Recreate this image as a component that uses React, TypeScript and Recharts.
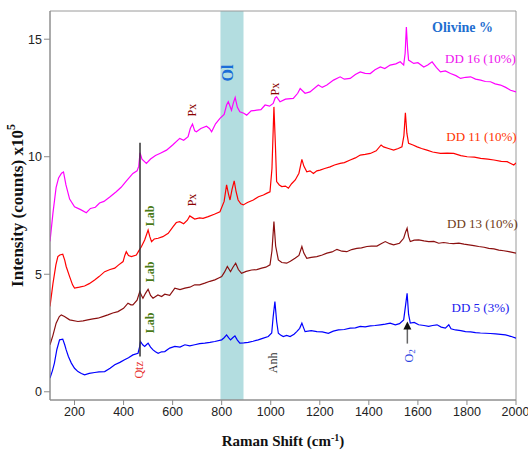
import React from 'react';
import {
  LineChart,
  Line,
  XAxis,
  YAxis,
  ReferenceArea,
  ReferenceLine,
  ReferenceDot,
  Label,
} from 'recharts';

type Pt = [number, number];

// Raman spectra, [shift cm-1, intensity x1e5]
const dd16: Pt[] = [
  [100, 6.4], [112, 7.6], [125, 8.7], [135, 9.1], [147, 9.3], [155, 9.35], [165, 8.8], [180, 8.2],
  [200, 7.87], [225, 7.75], [248, 7.62], [265, 7.8], [285, 7.85], [302, 8.03], [320, 8.1], [345, 8.3],
  [370, 8.51], [390, 8.7], [410, 8.95], [438, 9.29], [455, 9.4], [462, 9.6], [467, 10.17], [475, 9.9],
  [493, 9.72], [510, 9.9], [530, 10.05], [550, 10.15], [575, 10.28], [600, 10.5], [629, 10.78], [645, 10.7],
  [663, 10.85], [672, 11.2], [681, 11.39], [690, 11.1], [697, 11.06], [715, 11.2], [738, 11.3], [750, 11.2],
  [759, 11.06], [775, 11.4], [793, 11.63], [810, 11.8], [820, 12.2], [827, 12.34], [840, 11.98], [848, 12.3],
  [855, 12.52], [864, 12.1], [874, 11.91], [890, 11.85], [902, 11.77], [920, 11.95], [943, 11.98], [960, 12.0],
  [977, 12.2], [995, 12.15], [1010, 12.27], [1018, 12.5], [1024, 12.55], [1038, 12.34], [1060, 12.45], [1092, 12.48],
  [1110, 12.7], [1120, 12.9], [1140, 12.7], [1160, 12.76], [1194, 13.05], [1210, 12.95], [1229, 13.05], [1256, 13.26],
  [1283, 13.4], [1300, 13.3], [1324, 13.33], [1345, 13.5], [1365, 13.61], [1385, 13.55], [1406, 13.54], [1425, 13.7],
  [1447, 13.82], [1465, 13.75], [1487, 13.9], [1510, 13.95], [1528, 14.04], [1542, 13.9], [1548, 14.4], [1553, 15.52],
  [1558, 14.6], [1562, 14.11], [1583, 13.97], [1600, 14.0], [1624, 13.82], [1640, 13.9], [1658, 14.04], [1675, 13.8],
  [1692, 13.61], [1712, 13.65], [1733, 13.54], [1755, 13.45], [1774, 13.33], [1795, 13.38], [1815, 13.4], [1835, 13.3],
  [1856, 13.26], [1875, 13.2], [1896, 13.19], [1915, 13.1], [1937, 13.05], [1958, 12.95], [1978, 12.83], [2000, 12.76],
];

const dd11: Pt[] = [
  [100, 3.63], [112, 4.6], [124, 5.4], [132, 5.75], [140, 5.82], [152, 5.85], [160, 5.6], [166, 5.33],
  [180, 4.9], [192, 4.55], [200, 4.41], [220, 4.45], [241, 4.5], [260, 4.6], [282, 4.76], [300, 4.9],
  [323, 5.11], [345, 5.2], [364, 5.26], [380, 5.4], [398, 5.54], [405, 5.8], [411, 5.96], [420, 5.8],
  [432, 5.75], [452, 5.82], [465, 6.05], [473, 6.18], [486, 6.46], [500, 6.88], [507, 6.6], [514, 6.39],
  [525, 6.5], [541, 6.53], [560, 6.6], [582, 6.74], [602, 7.03], [615, 7.2], [629, 7.24], [645, 7.15],
  [660, 7.3], [670, 7.48], [690, 7.35], [710, 7.4], [724, 7.38], [745, 7.45], [770, 7.55], [793, 7.66],
  [810, 8.1], [820, 8.8], [828, 8.4], [834, 8.16], [842, 8.6], [851, 8.97], [859, 8.5], [867, 8.16],
  [878, 8.0], [888, 7.95], [905, 8.05], [929, 8.16], [950, 8.3], [970, 8.37], [985, 8.45], [997, 8.51],
  [1005, 9.5], [1013, 12.12], [1019, 10.5], [1024, 8.94], [1035, 8.8], [1045, 8.73], [1060, 8.75], [1072, 8.66],
  [1085, 8.85], [1100, 9.01], [1115, 9.3], [1127, 9.89], [1135, 9.6], [1147, 9.36], [1160, 9.4], [1174, 9.29],
  [1188, 9.4], [1201, 9.43], [1220, 9.5], [1242, 9.57], [1260, 9.65], [1283, 9.72], [1300, 9.75], [1324, 9.86],
  [1345, 9.95], [1365, 10.07], [1385, 10.1], [1406, 10.14], [1430, 10.25], [1450, 10.5], [1460, 10.42], [1480, 10.35],
  [1501, 10.28], [1520, 10.35], [1535, 10.42], [1543, 10.9], [1549, 11.87], [1555, 11.0], [1562, 10.57], [1580, 10.5],
  [1597, 10.42], [1615, 10.35], [1637, 10.28], [1660, 10.2], [1692, 10.14], [1720, 10.15], [1746, 10.14], [1775, 10.05],
  [1801, 10.0], [1830, 9.98], [1856, 9.93], [1885, 9.9], [1910, 9.86], [1940, 9.8], [1964, 9.79], [1991, 9.65],
  [2000, 9.74],
];

const dd13: Pt[] = [
  [100, 2.0], [112, 2.4], [125, 2.92], [138, 3.2], [146, 3.27], [159, 3.2], [180, 3.06], [214, 2.99],
  [235, 3.02], [254, 3.06], [275, 3.1], [295, 3.13], [315, 3.2], [336, 3.27], [356, 3.35], [377, 3.41],
  [400, 3.55], [418, 3.77], [430, 3.7], [438, 3.7], [455, 3.9], [466, 4.26], [473, 4.1], [479, 3.98],
  [490, 4.2], [500, 4.36], [510, 4.1], [520, 3.98], [540, 4.12], [555, 4.05], [568, 4.15], [588, 4.1],
  [609, 4.41], [630, 4.35], [650, 4.41], [670, 4.45], [690, 4.55], [710, 4.55], [731, 4.62], [752, 4.7],
  [772, 4.76], [790, 4.85], [800, 4.9], [812, 5.1], [823, 5.33], [836, 5.11], [846, 5.3], [857, 5.47],
  [868, 5.2], [881, 5.04], [900, 5.12], [922, 5.18], [943, 5.2], [963, 5.26], [980, 5.3], [997, 5.4],
  [1005, 6.0], [1013, 7.24], [1020, 6.2], [1031, 5.61], [1045, 5.5], [1065, 5.47], [1080, 5.55], [1099, 5.68],
  [1115, 5.8], [1127, 6.18], [1135, 5.9], [1147, 5.68], [1165, 5.72], [1188, 5.75], [1210, 5.82], [1229, 5.9],
  [1250, 5.95], [1270, 6.06], [1290, 5.98], [1310, 5.96], [1330, 6.05], [1351, 6.1], [1370, 6.12], [1392, 6.18],
  [1410, 6.2], [1433, 6.2], [1450, 6.3], [1467, 6.39], [1485, 6.3], [1501, 6.25], [1525, 6.32], [1542, 6.53],
  [1550, 6.8], [1556, 6.96], [1562, 6.6], [1569, 6.39], [1585, 6.45], [1603, 6.46], [1625, 6.42], [1644, 6.39],
  [1665, 6.4], [1685, 6.32], [1705, 6.35], [1726, 6.32], [1745, 6.3], [1767, 6.32], [1788, 6.28], [1808, 6.25],
  [1828, 6.22], [1848, 6.18], [1870, 6.15], [1889, 6.1], [1910, 6.08], [1930, 6.03], [1950, 6.0], [1971, 5.96],
  [2000, 5.9],
];

const dd5: Pt[] = [
  [100, 0.58], [110, 0.9], [118, 1.22], [128, 1.8], [139, 2.21], [152, 2.24], [160, 2.0], [166, 1.78],
  [175, 1.5], [187, 1.22], [200, 1.0], [214, 0.86], [228, 0.78], [241, 0.72], [260, 0.78], [282, 0.82],
  [300, 0.85], [323, 0.86], [345, 1.0], [364, 1.15], [385, 1.25], [404, 1.36], [420, 1.45], [438, 1.57],
  [459, 1.64], [465, 1.9], [469, 2.14], [478, 2.0], [486, 1.93], [493, 2.0], [500, 2.07], [510, 1.9],
  [520, 1.78], [530, 1.7], [541, 1.64], [555, 1.7], [568, 1.71], [588, 1.86], [609, 1.93], [630, 1.9],
  [650, 2.0], [670, 1.95], [690, 2.0], [710, 2.05], [731, 2.07], [752, 2.1], [772, 2.14], [800, 2.21],
  [810, 2.3], [820, 2.42], [828, 2.3], [836, 2.21], [845, 2.3], [854, 2.38], [864, 2.2], [874, 2.07],
  [890, 2.08], [908, 2.1], [928, 2.15], [949, 2.21], [970, 2.28], [990, 2.35], [1004, 2.5], [1010, 3.2],
  [1017, 3.84], [1024, 3.0], [1031, 2.49], [1040, 2.42], [1051, 2.35], [1065, 2.4], [1079, 2.35], [1095, 2.45],
  [1106, 2.56], [1118, 2.7], [1127, 2.92], [1133, 2.75], [1140, 2.56], [1165, 2.6], [1188, 2.56], [1210, 2.55],
  [1235, 2.49], [1255, 2.58], [1276, 2.63], [1300, 2.65], [1324, 2.71], [1345, 2.72], [1365, 2.78], [1385, 2.76],
  [1406, 2.8], [1425, 2.82], [1447, 2.85], [1467, 2.88], [1487, 2.92], [1508, 2.85], [1525, 2.9], [1542, 3.06],
  [1550, 3.7], [1556, 4.19], [1562, 3.3], [1569, 2.92], [1585, 2.95], [1603, 2.85], [1625, 2.82], [1644, 2.78],
  [1660, 2.82], [1678, 2.85], [1695, 2.75], [1712, 2.71], [1726, 2.85], [1735, 2.68], [1753, 2.63], [1775, 2.6],
  [1794, 2.56], [1815, 2.55], [1835, 2.52], [1855, 2.5], [1876, 2.49], [1895, 2.48], [1917, 2.46], [1937, 2.44],
  [1957, 2.42], [1978, 2.36], [2000, 2.28],
];

const xTicks = [200, 400, 600, 800, 1000, 1200, 1400, 1600, 1800, 2000];
const yTicks = [0, 5, 10, 15];

const series = [
  { key: 'dd16', pts: dd16, color: '#ff00ff' },
  { key: 'dd11', pts: dd11, color: '#ff0000' },
  { key: 'dd13', pts: dd13, color: '#8b1010' },
  { key: 'dd5', pts: dd5, color: '#0000ff' },
];

const SERIF = '"Liberation Serif", "Times New Roman", serif';
const SANS = '"Liberation Sans", Arial, sans-serif';

// annotations placed in data coordinates
const notes = [
  { text: 'Olivine %', x: 1782, y: 15.5, color: '#1f6fd0', size: 14, bold: true, rot: false },
  { text: 'DD 16 (10%)', x: 1855, y: 14.2, color: '#ee11ee', size: 13, bold: false, rot: false },
  { text: 'DD 11 (10%)', x: 1859, y: 10.88, color: '#ff3300', size: 13, bold: false, rot: false },
  { text: 'DD 13 (10%)', x: 1863, y: 7.18, color: '#6e3a14', size: 13, bold: false, rot: false },
  { text: 'DD 5 (3%)', x: 1855, y: 3.57, color: '#2020ee', size: 13, bold: false, rot: false },
  { text: 'Px', x: 680, y: 11.98, color: '#8b0000', size: 12, bold: false, rot: true },
  { text: 'Px', x: 1017, y: 12.88, color: '#8b0000', size: 12, bold: false, rot: true },
  { text: 'Px', x: 680, y: 8.16, color: '#8b0000', size: 12, bold: false, rot: true },
  { text: 'Ol', x: 825, y: 13.56, color: '#1a6ed8', size: 16, bold: true, rot: true },
  { text: 'Lab', x: 507, y: 7.48, color: '#4a7a16', size: 12, bold: true, rot: true },
  { text: 'Lab', x: 507, y: 5.1, color: '#4a7a16', size: 12, bold: true, rot: true },
  { text: 'Lab', x: 507, y: 2.93, color: '#4a7a16', size: 12, bold: true, rot: true },
  { text: 'Qtz', x: 462, y: 0.93, color: '#e83030', size: 12, bold: false, rot: true },
  { text: 'Anh', x: 1011, y: 1.23, color: '#333333', size: 12, bold: false, rot: true },
];

function noteShape(n: (typeof notes)[number]) {
  return (p: any) => (
    <text
      x={p.cx}
      y={p.cy}
      fill={n.color}
      fontSize={n.size}
      fontFamily={SERIF}
      fontWeight={n.bold ? 'bold' : 'normal'}
      textAnchor="middle"
      dominantBaseline="central"
      transform={n.rot ? `rotate(-90 ${p.cx} ${p.cy})` : undefined}
    >
      {n.text}
    </text>
  );
}

const o2Shape = (p: any) => (
  <text
    x={p.cx}
    y={p.cy}
    fill="#2a3fe0"
    fontSize={12}
    fontFamily={SERIF}
    textAnchor="middle"
    dominantBaseline="central"
    transform={`rotate(-90 ${p.cx} ${p.cy})`}
  >
    O<tspan fontSize={9} dy={3}>2</tspan>
  </text>
);

const arrowHead = (p: any) => (
  <path d={`M${p.cx},${p.cy - 4} L${p.cx - 4},${p.cy + 4} L${p.cx + 4},${p.cy + 4} Z`} fill="#111" />
);

const xTitle = (props: any) => {
  const vb = props.viewBox;
  const cx = vb.x + vb.width / 2;
  return (
    <text x={cx} y={446} textAnchor="middle" fontFamily={SERIF} fontWeight="bold" fontSize={15} fill="#111">
      Raman Shift (cm<tspan fontSize={10} dy={-5}>-1</tspan>
      <tspan dy={5}>)</tspan>
    </text>
  );
};

const yTitle = (props: any) => {
  const vb = props.viewBox;
  const cy = vb.y + vb.height / 2;
  return (
    <text
      x={17}
      y={cy}
      textAnchor="middle"
      dominantBaseline="central"
      fontFamily={SERIF}
      fontWeight="bold"
      fontSize={17}
      fill="#111"
      transform={`rotate(-90 17 ${cy})`}
    >
      Intensity (counts) x10<tspan fontSize={12} dy={-6}>5</tspan>
    </text>
  );
};

export default function App() {
  return (
    <div style={{ position: 'absolute', left: 0, top: 0, width: 528, height: 462, background: '#fff' }}>
      <LineChart width={528} height={462} margin={{ top: 11, right: 12, bottom: 0, left: 0 }}>
        <ReferenceArea x1={795} x2={889} y1={-0.35} y2={16.2} fill="#b3dde0" fillOpacity={1} stroke="none" />
        <ReferenceArea x1={100} x2={2000} y1={-0.35} y2={16.2} fill="none" stroke="#9a9a9a" strokeWidth={1} />
        <XAxis
          type="number"
          dataKey="x"
          domain={[100, 2000]}
          ticks={xTicks}
          height={62}
          allowDataOverflow
          stroke="#8a8a8a"
          tickSize={5}
          tick={{ fontSize: 12.5, fontFamily: SANS, fill: '#222' }}
        >
          <Label content={xTitle} />
        </XAxis>
        <YAxis
          type="number"
          dataKey="y"
          domain={[-0.35, 16.2]}
          ticks={yTicks}
          width={50}
          allowDataOverflow
          stroke="#8a8a8a"
          tickSize={6}
          tick={{ fontSize: 12.5, fontFamily: SANS, fill: '#222' }}
        >
          <Label content={yTitle} />
        </YAxis>
        {series.map((s) => (
          <Line
            key={s.key}
            data={s.pts.map(([x, y]) => ({ x, y }))}
            dataKey="y"
            type="linear"
            stroke={s.color}
            strokeWidth={1.2}
            dot={false}
            isAnimationActive={false}
          />
        ))}
        <ReferenceLine
          segment={[{ x: 467, y: 1.5 }, { x: 467, y: 10.6 }]}
          stroke="#333"
          strokeWidth={1.5}
        />
        <ReferenceLine
          segment={[{ x: 1557, y: 2.05 }, { x: 1557, y: 2.7 }]}
          stroke="#666"
          strokeWidth={1.5}
        />
        <ReferenceDot x={1557} y={2.82} r={4} shape={arrowHead} />
        {notes.map((n, i) => (
          <ReferenceDot key={i} x={n.x} y={n.y} r={1} shape={noteShape(n)} />
        ))}
        <ReferenceDot x={1562} y={1.53} r={1} shape={o2Shape} />
      </LineChart>
    </div>
  );
}
